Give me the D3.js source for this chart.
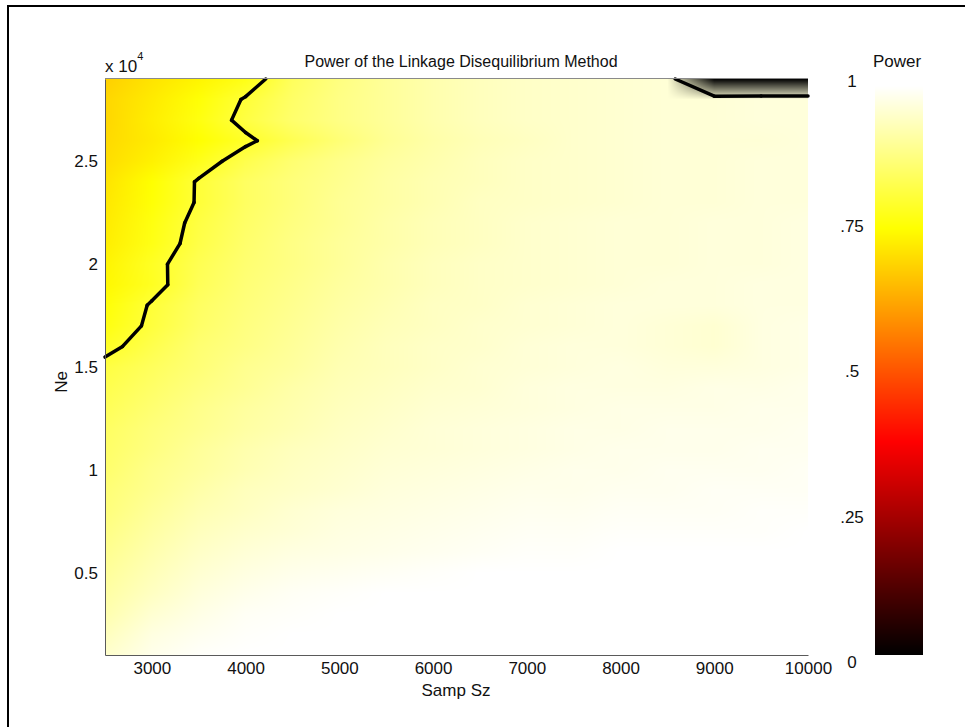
<!DOCTYPE html>
<html>
<head>
<meta charset="utf-8">
<script src="https://cdn.jsdelivr.net/npm/d3@7"></script>
<style>
  body { margin: 0; background: #fff; }
  svg text { font-family: "Liberation Sans", Arial, sans-serif; fill: #111; }
</style>
</head>
<body>
<svg id="chart" width="965" height="727"></svg>
<script>
// sample sizes (x grid)
const sampSizes = [2500, 3000, 3500, 4000, 4500, 5000, 5500, 6000, 6500, 7000, 7500, 8000, 8500, 9000, 9500, 10000];

// effective population sizes (y grid), top row first
const neValues = [29000, 28000, 27000, 26000, 25000, 24000, 23000, 22000, 21000, 20000,
                  19000, 18000, 17000, 16000, 15000, 14000, 13000, 12000, 11000, 10000,
                  9000, 8000, 7000, 6000, 5000, 4000, 3000, 2000, 1000];

// power, one row per Ne value, one column per sample size
const power = [
  [0.68, 0.71, 0.735, 0.77, 0.84, 0.875, 0.90, 0.92, 0.935, 0.945, 0.95, 0.955, 0.96, 0, 0, 0],
  [0.69, 0.72, 0.755, 0.805, 0.85, 0.88, 0.90, 0.92, 0.935, 0.945, 0.95, 0.955, 0.96, 0.96, 0.965, 0.965],
  [0.69, 0.725, 0.765, 0.815, 0.855, 0.88, 0.90, 0.92, 0.935, 0.945, 0.95, 0.955, 0.96, 0.96, 0.965, 0.965],
  [0.695, 0.72, 0.75, 0.79, 0.83, 0.865, 0.895, 0.915, 0.93, 0.94, 0.95, 0.955, 0.96, 0.96, 0.96, 0.965],
  [0.70, 0.73, 0.775, 0.825, 0.86, 0.885, 0.905, 0.92, 0.935, 0.945, 0.95, 0.955, 0.96, 0.96, 0.965, 0.965],
  [0.71, 0.75, 0.805, 0.845, 0.87, 0.89, 0.91, 0.925, 0.935, 0.945, 0.95, 0.955, 0.96, 0.96, 0.965, 0.965],
  [0.715, 0.755, 0.805, 0.845, 0.87, 0.895, 0.91, 0.925, 0.94, 0.945, 0.95, 0.955, 0.96, 0.96, 0.965, 0.965],
  [0.72, 0.765, 0.815, 0.85, 0.875, 0.895, 0.915, 0.93, 0.94, 0.95, 0.955, 0.96, 0.96, 0.965, 0.965, 0.97],
  [0.725, 0.77, 0.82, 0.855, 0.88, 0.90, 0.915, 0.93, 0.94, 0.95, 0.955, 0.96, 0.96, 0.965, 0.965, 0.97],
  [0.735, 0.785, 0.83, 0.86, 0.88, 0.90, 0.92, 0.935, 0.945, 0.95, 0.955, 0.96, 0.96, 0.965, 0.965, 0.97],
  [0.74, 0.782, 0.835, 0.865, 0.885, 0.905, 0.92, 0.935, 0.945, 0.95, 0.955, 0.96, 0.965, 0.965, 0.97, 0.97],
  [0.755, 0.805, 0.845, 0.87, 0.89, 0.91, 0.925, 0.94, 0.945, 0.955, 0.96, 0.965, 0.965, 0.965, 0.97, 0.97],
  [0.765, 0.81, 0.85, 0.875, 0.895, 0.915, 0.93, 0.94, 0.95, 0.955, 0.96, 0.965, 0.96, 0.955, 0.97, 0.975],
  [0.785, 0.825, 0.86, 0.88, 0.90, 0.92, 0.935, 0.945, 0.95, 0.96, 0.965, 0.965, 0.96, 0.955, 0.97, 0.975],
  [0.814, 0.84, 0.865, 0.89, 0.905, 0.925, 0.935, 0.945, 0.955, 0.96, 0.965, 0.97, 0.965, 0.965, 0.97, 0.975],
  [0.825, 0.85, 0.875, 0.895, 0.915, 0.93, 0.94, 0.95, 0.955, 0.965, 0.97, 0.97, 0.97, 0.975, 0.975, 0.98],
  [0.835, 0.86, 0.885, 0.905, 0.92, 0.935, 0.945, 0.955, 0.96, 0.965, 0.97, 0.975, 0.975, 0.975, 0.98, 0.98],
  [0.845, 0.87, 0.89, 0.91, 0.925, 0.94, 0.95, 0.96, 0.965, 0.97, 0.975, 0.975, 0.98, 0.98, 0.98, 0.985],
  [0.85, 0.875, 0.90, 0.92, 0.935, 0.945, 0.955, 0.96, 0.965, 0.97, 0.975, 0.98, 0.98, 0.98, 0.985, 0.985],
  [0.855, 0.885, 0.905, 0.925, 0.94, 0.95, 0.96, 0.965, 0.97, 0.975, 0.98, 0.98, 0.985, 0.985, 0.985, 0.99],
  [0.865, 0.89, 0.915, 0.935, 0.945, 0.955, 0.965, 0.97, 0.975, 0.98, 0.98, 0.985, 0.985, 0.99, 0.99, 0.99],
  [0.87, 0.90, 0.925, 0.94, 0.955, 0.965, 0.97, 0.975, 0.98, 0.985, 0.985, 0.99, 0.99, 0.99, 0.995, 0.995],
  [0.88, 0.91, 0.935, 0.95, 0.96, 0.97, 0.975, 0.98, 0.985, 0.99, 0.99, 0.995, 0.995, 0.995, 0.995, 1],
  [0.89, 0.92, 0.945, 0.96, 0.97, 0.975, 0.98, 0.985, 0.99, 0.995, 0.995, 1, 1, 1, 1, 1],
  [0.90, 0.93, 0.955, 0.97, 0.98, 0.985, 0.99, 0.995, 1, 1, 1, 1, 1, 1, 1, 1],
  [0.91, 0.94, 0.965, 0.98, 0.99, 0.995, 1, 1, 1, 1, 1, 1, 1, 1, 1, 1],
  [0.92, 0.955, 0.975, 0.99, 0.995, 1, 1, 1, 1, 1, 1, 1, 1, 1, 1, 1],
  [0.935, 0.97, 0.985, 0.995, 1, 1, 1, 1, 1, 1, 1, 1, 1, 1, 1, 1],
  [0.95, 0.98, 0.995, 1, 1, 1, 1, 1, 1, 1, 1, 1, 1, 1, 1, 1]
];

// ticks
const xTickValues = [3000, 4000, 5000, 6000, 7000, 8000, 9000, 10000];
const yTickValues = [5000, 10000, 15000, 20000, 25000];
const yTickLabels = ["0.5", "1", "1.5", "2", "2.5"];
const cbTickValues = [0, 0.25, 0.5, 0.75, 1];
const cbTickLabels = ["0", ".25", ".5", ".75", "1"];
const contourLevel = 0.8;

const svg = d3.select("#chart");

// outer frame (only left and top edges show)
svg.append("path")
  .attr("d", "M8,727V6H965")
  .attr("fill", "none")
  .attr("stroke", "#000")
  .attr("stroke-width", 2);

// scales
const x = d3.scaleLinear().domain([2500, 10000]).range([105, 808]);
const y = d3.scaleLinear().domain([1000, 29000]).range([655, 79]);

// grid position of a data value
const colIndex = d3.scaleLinear().domain(sampSizes).range(d3.range(sampSizes.length)).clamp(true);
const rowIndex = d3.scaleLinear().domain(neValues).range(d3.range(neValues.length)).clamp(true);

// matlab "hot" colormap
function hot(v) {
  const r = Math.max(0, Math.min(1, v / 0.375));
  const g = Math.max(0, Math.min(1, (v - 0.375) / 0.375));
  const b = Math.max(0, Math.min(1, (v - 0.75) / 0.25));
  return [r * 255, g * 255, b * 255];
}

const cornerColors = power.map(row => row.map(hot));

// draw interpolated surface into a canvas
const x0 = x.range()[0], x1 = x.range()[1];
const y0 = y.range()[1], y1 = y.range()[0];
const w = x1 - x0, h = y1 - y0;
const canvas = document.createElement("canvas");
canvas.width = w;
canvas.height = h;
const ctx = canvas.getContext("2d");
const img = ctx.createImageData(w, h);

for (let py = 0; py < h; py++) {
  const fr = rowIndex(y.invert(y0 + py + 0.5));
  const r0 = Math.min(Math.floor(fr), neValues.length - 2);
  const tr = fr - r0;
  for (let px = 0; px < w; px++) {
    const fc = colIndex(x.invert(x0 + px + 0.5));
    const c0 = Math.min(Math.floor(fc), sampSizes.length - 2);
    const tc = fc - c0;
    const a = cornerColors[r0][c0], b = cornerColors[r0][c0 + 1];
    const c = cornerColors[r0 + 1][c0], d = cornerColors[r0 + 1][c0 + 1];
    const k = (py * w + px) * 4;
    for (let ch = 0; ch < 3; ch++) {
      const top = a[ch] + (b[ch] - a[ch]) * tc;
      const bot = c[ch] + (d[ch] - c[ch]) * tc;
      img.data[k + ch] = Math.round(top + (bot - top) * tr);
    }
    img.data[k + 3] = 255;
  }
}
ctx.putImageData(img, 0, 0);

svg.append("image")
  .attr("x", x0)
  .attr("y", y0)
  .attr("width", w)
  .attr("height", h)
  .attr("href", canvas.toDataURL());

// contour line with marching squares
function contourSegments(level) {
  const segs = [];
  for (let r = 0; r < neValues.length - 1; r++) {
    for (let c = 0; c < sampSizes.length - 1; c++) {
      const corners = [
        [sampSizes[c], neValues[r], power[r][c]],
        [sampSizes[c + 1], neValues[r], power[r][c + 1]],
        [sampSizes[c + 1], neValues[r + 1], power[r + 1][c + 1]],
        [sampSizes[c], neValues[r + 1], power[r + 1][c]]
      ];
      const pts = [];
      for (let k = 0; k < 4; k++) {
        const p = corners[k], q = corners[(k + 1) % 4];
        if ((p[2] >= level) !== (q[2] >= level)) {
          const t = (level - p[2]) / (q[2] - p[2]);
          pts.push([p[0] + t * (q[0] - p[0]), p[1] + t * (q[1] - p[1])]);
        }
      }
      if (pts.length >= 2) segs.push([pts[0], pts[1]]);
      if (pts.length === 4) segs.push([pts[2], pts[3]]);
    }
  }
  return segs;
}

svg.append("g")
  .selectAll("line")
  .data(contourSegments(contourLevel))
  .join("line")
  .attr("x1", d => x(d[0][0]))
  .attr("y1", d => y(d[0][1]))
  .attr("x2", d => x(d[1][0]))
  .attr("y2", d => y(d[1][1]))
  .attr("stroke", "#000")
  .attr("stroke-width", 3.5)
  .attr("stroke-linecap", "round");

// axes
const xAxis = svg.append("g")
  .attr("transform", "translate(0," + y1 + ")")
  .call(d3.axisBottom(x).tickValues(xTickValues).tickSize(0).tickPadding(7).tickFormat(d3.format("d")));

const yAxis = svg.append("g")
  .attr("transform", "translate(" + x0 + ",0)")
  .call(d3.axisLeft(y).tickValues(yTickValues).tickSize(0).tickPadding(7)
    .tickFormat((d, i) => yTickLabels[i]));

[xAxis, yAxis].forEach(g => {
  g.selectAll("text").attr("font-size", 17).attr("font-family", null).attr("fill", "#111");
  g.select(".domain").attr("stroke", "#5a5a5a");
});

// top edge of the axes box
svg.append("line")
  .attr("x1", x0).attr("x2", x1)
  .attr("y1", y0 - 0.5).attr("y2", y0 - 0.5)
  .attr("stroke", "#8a8a8a");

// titles
svg.append("text")
  .attr("x", 461).attr("y", 67)
  .attr("text-anchor", "middle")
  .attr("font-size", 16)
  .text("Power of the Linkage Disequilibrium Method");

const exp = svg.append("text").attr("x", 105).attr("y", 72).attr("font-size", 17);
exp.append("tspan").text("x 10");
exp.append("tspan").attr("font-size", 11).attr("dy", -12).text("4");

svg.append("text")
  .attr("transform", "translate(67,382) rotate(-90)")
  .attr("text-anchor", "middle")
  .attr("font-size", 17)
  .text("Ne");

svg.append("text")
  .attr("x", 456).attr("y", 696)
  .attr("text-anchor", "middle")
  .attr("font-size", 17)
  .text("Samp Sz");

// colorbar
const cb = d3.scaleLinear().domain([0, 1]).range([655, 86]);
const cbLabel = d3.scaleLinear().domain([0, 1]).range([662, 81]);
const cbSteps = d3.range(cb.range()[1], cb.range()[0]);

svg.append("g")
  .selectAll("rect")
  .data(cbSteps)
  .join("rect")
  .attr("x", 875)
  .attr("y", d => d)
  .attr("width", 48)
  .attr("height", 1)
  .attr("fill", d => {
    const c = hot(cb.invert(d + 0.5));
    return d3.rgb(c[0], c[1], c[2]).toString();
  });

svg.append("g")
  .selectAll("text")
  .data(cbTickValues)
  .join("text")
  .attr("x", 852)
  .attr("y", d => cbLabel(d))
  .attr("dy", "0.35em")
  .attr("text-anchor", "middle")
  .attr("font-size", 17)
  .text((d, i) => cbTickLabels[i]);

svg.append("text")
  .attr("x", 897).attr("y", 67)
  .attr("text-anchor", "middle")
  .attr("font-size", 17)
  .text("Power");
</script>
</body>
</html>
